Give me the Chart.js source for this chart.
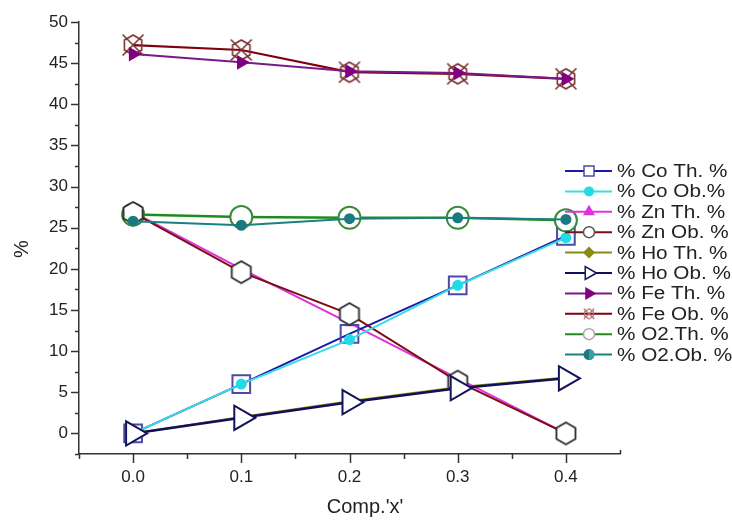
<!DOCTYPE html>
<html>
<head>
<meta charset="utf-8">
<script src="https://cdn.jsdelivr.net/npm/chart.js@4.4.1/dist/chart.umd.min.js"></script>
<style>
  html, body { margin: 0; padding: 0; background: #ffffff; }
  #wrap { width: 732px; height: 520px; }
</style>
</head>
<body>
<div id="wrap"><canvas id="c" width="732" height="520"></canvas></div>
<script>
// ---- data ----
const compX = [0.0, 0.1, 0.2, 0.3, 0.4];
const coTh = [0, 6.0, 12.1, 18.0, 24.0];
const coOb = [0, 6.0, 11.4, 18.0, 23.8];
const znTh = [26.9, 20.0, 13.4, 6.7, 0];
const znOb = [26.8, 19.6, 14.5, 6.3, 0];
const hoTh = [0, 2.0, 3.9, 5.6, 6.8];
const hoOb = [0, 1.9, 3.8, 5.5, 6.7];
const feTh = [46.1, 45.1, 44.0, 43.8, 43.1];
const feOb = [47.2, 46.6, 43.9, 43.7, 43.1];
const o2Th = [26.6, 26.3, 26.2, 26.2, 25.9];
const o2Ob = [25.8, 25.3, 26.1, 26.2, 26.0];
const seriesLabels = ['% Co Th. %', '% Co Ob.%', '% Zn Th. %', '% Zn Ob. %', '% Ho Th. %',
                      '% Ho Ob. %', '% Fe Th. %', '% Fe Ob. %', '% O2.Th. %', '% O2.Ob. %'];
const xTitle = "Comp.'x'";
const yTitle = '%';

const FONT = "'Liberation Sans', Arial, sans-serif";

function pts(arr) { return arr.map((v, i) => ({ x: compX[i], y: v })); }

function hexPath(ctx, cx, cy, r) {
  ctx.beginPath();
  for (let k = 0; k < 6; k++) {
    const a = Math.PI / 2 + k * Math.PI / 3;
    const px = cx + r * Math.cos(a), py = cy - r * Math.sin(a);
    if (k === 0) ctx.moveTo(px, py); else ctx.lineTo(px, py);
  }
  ctx.closePath();
}
function makeHex(r, stroke, fill, cross, lw) {
  const s = Math.ceil(2 * r + 8);
  const c = document.createElement('canvas');
  c.width = s; c.height = s;
  const g = c.getContext('2d');
  const m = s / 2;
  hexPath(g, m, m, r);
  if (fill) { g.fillStyle = fill; g.fill(); }
  g.strokeStyle = stroke; g.lineWidth = lw; g.stroke();
  if (cross) {
    const d = r * 1.05;
    g.beginPath();
    g.moveTo(m - d, m - d); g.lineTo(m + d, m + d);
    g.moveTo(m + d, m - d); g.lineTo(m - d, m + d);
    g.stroke();
  }
  return c;
}
const hexZn = makeHex(11, '#2a2a2a', '#ffffff', false, 1.8);
const hexFe = makeHex(10, '#7a3030', null, true, 1.6);
const hexFeSmall = makeHex(5, '#b07070', null, true, 1.2);

const datasets = [
  { label: seriesLabels[0], data: pts(coTh), borderColor: '#1a1aa8', borderWidth: 2,
    pointStyle: 'rect', pointRadius: 12.5, pointBorderColor: '#4a4aa8', pointBackgroundColor: 'rgba(0,0,0,0)', pointBorderWidth: 2, order: 3 },
  { label: seriesLabels[1], data: pts(coOb), borderColor: '#38dbe6', borderWidth: 2,
    pointStyle: 'circle', pointRadius: 4.5, pointBorderColor: '#22dbe6', pointBackgroundColor: '#22dbe6', order: 1 },
  { label: seriesLabels[2], data: pts(znTh), borderColor: '#e030e0', borderWidth: 2,
    pointStyle: 'triangle', pointRadius: 4, pointBorderColor: '#e030e0', pointBackgroundColor: '#e030e0', order: 4 },
  { label: seriesLabels[3], data: pts(znOb), borderColor: '#7a1010', borderWidth: 2,
    pointStyle: hexZn, pointRadius: 11, order: 2 },
  { label: seriesLabels[4], data: pts(hoTh), borderColor: '#8a8a10', borderWidth: 2,
    pointStyle: 'rectRot', pointRadius: 5, pointBorderColor: '#8a8a10', pointBackgroundColor: '#8a8a10', order: 5 },
  { label: seriesLabels[5], data: pts(hoOb), borderColor: '#10105a', borderWidth: 2.5,
    pointStyle: 'triangle', pointRotation: 90, pointRadius: 14, pointBorderColor: '#14145a', pointBackgroundColor: '#ffffff', pointBorderWidth: 2, order: 0 },
  { label: seriesLabels[6], data: pts(feTh), borderColor: '#7a1a8a', borderWidth: 2,
    pointStyle: 'triangle', pointRotation: 90, pointRadius: 6.5, pointBorderColor: '#800080', pointBackgroundColor: '#800080', order: 0 },
  { label: seriesLabels[7], data: pts(feOb), borderColor: '#800010', borderWidth: 2.2,
    pointStyle: hexFe, pointRadius: 10, order: 1 },
  { label: seriesLabels[8], data: pts(o2Th), borderColor: '#1f8a1f', borderWidth: 2.5,
    pointStyle: 'circle', pointRadius: 11, pointBorderColor: '#3a8a3a', pointBackgroundColor: '#ffffff', pointBorderWidth: 2, order: 2 },
  { label: seriesLabels[9], data: pts(o2Ob), borderColor: '#1a8080', borderWidth: 2,
    pointStyle: 'circle', pointRadius: 4.5, pointBorderColor: '#1a7a80', pointBackgroundColor: '#1a7a80', order: 0 }
];
datasets.forEach(d => { d.tension = 0; d.fill = false; d.showLine = true; });

// legend markers (small versions)
function legendMarker(ctx, i, x, y) {
  ctx.save();
  ctx.lineWidth = 1.5;
  const tri = (r, rot) => {
    ctx.beginPath();
    for (let k = 0; k < 3; k++) {
      const a = rot + k * 2 * Math.PI / 3;
      const px = x + Math.sin(a) * r, py = y - Math.cos(a) * r;
      if (k === 0) ctx.moveTo(px, py); else ctx.lineTo(px, py);
    }
    ctx.closePath();
  };
  switch (i) {
    case 0: ctx.fillStyle = '#fff'; ctx.strokeStyle = '#4a4aa8'; ctx.fillRect(x - 5, y - 5, 10, 10); ctx.strokeRect(x - 5, y - 5, 10, 10); break;
    case 1: ctx.fillStyle = '#22dbe6'; ctx.beginPath(); ctx.arc(x, y, 5, 0, 2 * Math.PI); ctx.fill(); break;
    case 2: ctx.fillStyle = '#e030e0'; tri(7, 0); ctx.fill(); break;
    case 3: ctx.fillStyle = '#fff'; ctx.strokeStyle = '#555'; ctx.beginPath(); ctx.arc(x, y, 5.5, 0, 2 * Math.PI); ctx.fill(); ctx.stroke(); break;
    case 4: ctx.fillStyle = '#8a8a10'; ctx.beginPath(); ctx.moveTo(x, y - 6); ctx.lineTo(x + 6, y); ctx.lineTo(x, y + 6); ctx.lineTo(x - 6, y); ctx.closePath(); ctx.fill(); break;
    case 5: ctx.fillStyle = '#fff'; ctx.strokeStyle = '#14145a'; tri(7.5, Math.PI / 2); ctx.fill(); ctx.stroke(); break;
    case 6: ctx.fillStyle = '#800080'; tri(7.5, Math.PI / 2); ctx.fill(); break;
    case 7: ctx.drawImage(hexFeSmall, x - hexFeSmall.width / 2, y - hexFeSmall.height / 2); break;
    case 8: ctx.fillStyle = '#fff'; ctx.strokeStyle = '#aaa'; ctx.beginPath(); ctx.arc(x, y, 5.5, 0, 2 * Math.PI); ctx.fill(); ctx.stroke(); break;
    case 9: ctx.fillStyle = '#1a7a80'; ctx.beginPath(); ctx.arc(x, y, 5.5, 0, 2 * Math.PI); ctx.fill();
            ctx.fillStyle = '#3aa0a6'; ctx.beginPath(); ctx.arc(x, y, 5.5, -Math.PI / 2, Math.PI / 2); ctx.fill(); break;
  }
  ctx.restore();
}

const decor = {
  id: 'decor',
  afterDraw(chart) {
    const ctx = chart.ctx;
    ctx.save();
    ctx.strokeStyle = '#333';
    ctx.lineWidth = 1.5;
    // y ticks
    const ys = chart.scales.y;
    ys.ticks.forEach(t => {
      const py = Math.round(ys.getPixelForValue(t.value)) + 0.5;
      const major = t.label !== '' && t.label !== undefined;
      const len = major ? 8 : 4;
      ctx.beginPath(); ctx.moveTo(ys.right, py); ctx.lineTo(ys.right - len, py); ctx.stroke();
    });
    // x ticks
    const xs = chart.scales.x;
    xs.ticks.forEach((t, idx) => {
      const px = Math.round(xs.getPixelForValue(t.value)) + 0.5;
      const major = t.label !== '' && t.label !== undefined;
      const len = major ? 9 : 5;
      const last = idx === xs.ticks.length - 1;
      ctx.beginPath();
      if (last) { ctx.moveTo(px, xs.top); ctx.lineTo(px, xs.top - 4); }
      else { ctx.moveTo(px, xs.top); ctx.lineTo(px, xs.top + len); }
      ctx.stroke();
    });
    // titles
    ctx.fillStyle = '#222';
    ctx.font = '20px ' + FONT;
    ctx.textAlign = 'center';
    ctx.textBaseline = 'middle';
    ctx.fillText(xTitle, 365, 507);
    ctx.save();
    ctx.translate(22, 249);
    ctx.rotate(-Math.PI / 2);
    ctx.fillText(yTitle, 0, 0);
    ctx.restore();
    // legend
    chart.data.datasets.forEach((d, i) => {
      const y = 171 + i * 20.4;
      ctx.strokeStyle = d.borderColor;
      ctx.lineWidth = 2;
      ctx.beginPath(); ctx.moveTo(565, y); ctx.lineTo(612, y); ctx.stroke();
      legendMarker(ctx, i, 589, y);
      ctx.save();
      ctx.translate(617, y + 1);
      ctx.scale(1.15, 1);
      ctx.fillStyle = '#222';
      ctx.font = '18px ' + FONT;
      ctx.textAlign = 'left';
      ctx.textBaseline = 'middle';
      ctx.fillText(d.label, 0, 0);
      ctx.restore();
    });
    ctx.restore();
  }
};

Chart.defaults.font.family = FONT;
Chart.defaults.font.size = 17;
Chart.defaults.color = '#222';

new Chart(document.getElementById('c'), {
  type: 'scatter',
  data: { datasets },
  options: {
    responsive: false,
    animation: false,
    layout: { padding: { left: 0, right: 112, top: 22, bottom: 0 } },
    plugins: { legend: { display: false }, tooltip: { enabled: false }, title: { display: false } },
    scales: {
      x: {
        type: 'linear', min: -0.05, max: 0.45,
        afterFit(s) { s.height = 66; },
        grid: { display: false },
        border: { display: true, color: '#333', width: 1.5 },
        ticks: {
          stepSize: 0.05, autoSkip: false, maxRotation: 0, padding: 5,
          callback(v) {
            const r = Math.round(v * 100) / 100;
            const isTenth = Math.abs(r * 10 - Math.round(r * 10)) < 1e-6;
            return (isTenth && r >= 0 && r <= 0.4) ? r.toFixed(1) : '';
          }
        }
      },
      y: {
        type: 'linear', min: -2.5, max: 50,
        afterFit(s) { s.width = 79; },
        grid: { display: false },
        border: { display: true, color: '#333', width: 1.5 },
        ticks: {
          stepSize: 2.5, autoSkip: false, padding: 3,
          callback(v) {
            const r = Math.round(v * 10) / 10;
            return (r >= 0 && Math.abs(r / 5 - Math.round(r / 5)) < 1e-6) ? String(Math.round(r)) : '';
          }
        }
      }
    }
  },
  plugins: [decor]
});
</script>
</body>
</html>
